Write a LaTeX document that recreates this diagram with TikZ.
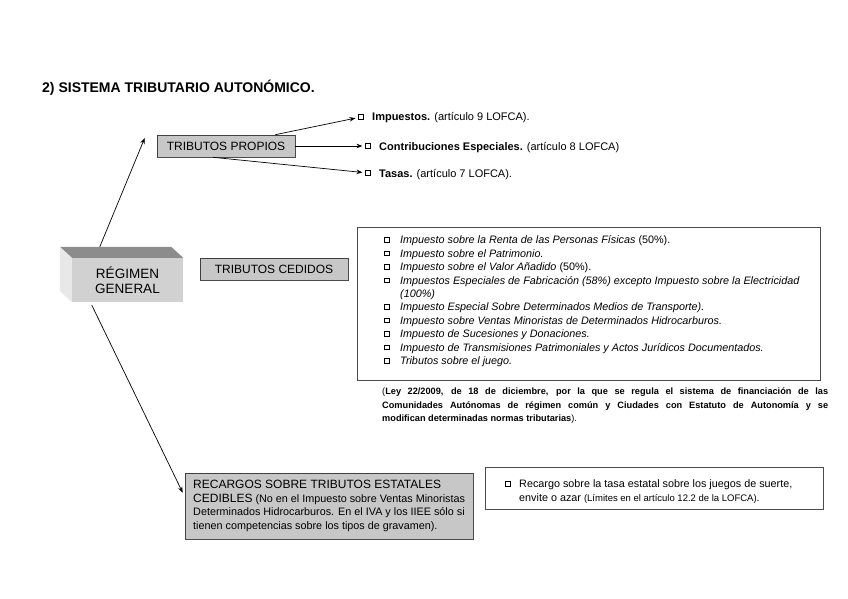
\documentclass[tikz,border=0pt]{standalone}
\usepackage{fontspec}
\setmainfont{Liberation Sans}
\usetikzlibrary{arrows.meta,calc}
\begin{document}
\begin{tikzpicture}[x=1pt,y=-1pt,
  arr/.style={-{Stealth[length=6pt,width=4.5pt]}, line width=0.7pt},
  sq/.style={draw, line width=0.6pt, minimum size=4.6pt, inner sep=0pt},
  graybox/.style={draw=black!75, line width=0.6pt, fill=black!22, inner sep=0pt},
  whitebox/.style={draw=black!70, line width=0.8pt, fill=white, inner sep=0pt},
  shadowline/.style={draw=black!70, line width=1.3pt},
  lbl/.style={anchor=base west, inner sep=0pt},
  boxtext/.style={font=\fontsize{12}{14}\selectfont},
  itemtext/.style={lbl, font=\fontsize{10.8}{12}\selectfont\itshape},
  smalltext/.style={lbl, font=\fontsize{10.8}{12}\selectfont},
]
\useasboundingbox (0,0) rectangle (848,599);

% title
\node[lbl, font=\fontsize{14}{16}\selectfont\bfseries] (title) at (42,93) {2) SISTEMA TRIBUTARIO AUTONÓMICO.};

% REGIMEN GENERAL 3D box
\node[minimum width=111pt, minimum height=44pt, inner sep=0pt, fill=black!18,
      align=center, font=\fontsize{13.5}{15.5}\selectfont] (rg) at (127.5,280) {RÉGIMEN\\GENERAL};
\fill[black!45] (rg.north west) -- ++(-12,-11) -- ($(rg.north east)+(-12,-11)$) -- (rg.north east) -- cycle;
\fill[black!9] (rg.north west) -- ++(-12,-11) -- ++(0,44) -- (rg.south west) -- cycle;

% TRIBUTOS PROPIOS
\node[graybox, minimum width=138pt, minimum height=22pt, boxtext] (tp) at (226,146) {TRIBUTOS PROPIOS};
\draw[shadowline] (tp.north east) -- (tp.south east) -- (tp.south west);

% bullets and texts for tributos propios
\node[sq] (b1) at (361,117) {};
\node[sq] (b2) at (368,146) {};
\node[sq] (b3) at (368,173) {};
\node[lbl, font=\fontsize{11}{12}\selectfont] (t1) at (372,121) {\textbf{Impuestos.} (artículo 9 LOFCA).};
\node[lbl, font=\fontsize{11}{12}\selectfont] (t2) at (379,150) {\textbf{Contribuciones Especiales.} (artículo 8 LOFCA)};
\node[lbl, font=\fontsize{11}{12}\selectfont] (t3) at (379,177) {\textbf{Tasas.} (artículo 7 LOFCA).};

\coordinate (tpa) at ($(tp.north east)+(-20,0)$);
\coordinate (tpb) at ($(tp.south)+(-13,0)$);
\draw[arr, shorten >=3pt] (tpa) -- (b1);
\draw[arr, shorten >=3pt] (tp.east) -- (b2);
\draw[arr, shorten >=3pt] (tpb) -- (b3);

% arrows from regimen
\coordinate (rgtop) at ($(rg.north west)+(28,-11)$);
\coordinate (tpin) at ($(tp.west)+(-12,-8)$);
\draw[arr] (rgtop) -- (tpin);

% TRIBUTOS CEDIDOS
\node[graybox, minimum width=148pt, minimum height=22pt, boxtext] (tc) at (274,269) {TRIBUTOS CEDIDOS};
\draw[shadowline] (tc.north east) -- (tc.south east) -- (tc.south west);

% list box
\node[whitebox, minimum width=463pt, minimum height=153pt] (lst) at (588.5,303.5) {};
\draw[shadowline, line width=1.5pt] (lst.north east) -- (lst.south east) -- (lst.south west);

\foreach \y/\n in {240/1,253.4/2,266.8/3,280.2/4,307/5,320.4/6,333.8/7,347.2/8,360.6/9}{
  \node[sq] (lb\n) at (387,\y) {};
}
\node[itemtext] (i1) at (400,243.8) {Impuesto sobre la Renta de las Personas Físicas \upshape(50\%).};
\node[itemtext] (i2) at (400,257.2) {Impuesto sobre el Patrimonio.};
\node[itemtext] (i3) at (400,270.6) {Impuesto sobre el Valor Añadido \upshape(50\%).};
\node[itemtext] (i4) at (400,284) {Impuestos Especiales de Fabricación (58\%) excepto Impuesto sobre la Electricidad};
\node[itemtext] (i4b) at (400,297.4) {(100\%)};
\node[itemtext] (i5) at (400,310.8) {Impuesto Especial Sobre Determinados Medios de Transporte).};
\node[itemtext] (i6) at (400,324.2) {Impuesto sobre Ventas Minoristas de Determinados Hidrocarburos.};
\node[itemtext] (i7) at (400,337.6) {Impuesto de Sucesiones y Donaciones.};
\node[itemtext] (i8) at (400,351) {Impuesto de Transmisiones Patrimoniales y Actos Jurídicos Documentados.};
\node[itemtext] (i9) at (400,364.4) {Tributos sobre el juego.};

% Ley
\node[lbl, font=\fontsize{9.2}{12}\selectfont\bfseries] (ley1) at (382,394.5) {\makebox[446pt][s]{\mdseries(\bfseries Ley 22/2009, de 18 de diciembre, por la que se regula el sistema de financiación de las}};
\node[lbl, font=\fontsize{9.2}{12}\selectfont\bfseries] (ley2) at (382,408) {\makebox[446pt][s]{Comunidades Autónomas de régimen común y Ciudades con Estatuto de Autonomía y se}};
\node[lbl, font=\fontsize{9.2}{12}\selectfont\bfseries] (ley3) at (382,421.5) {modifican determinadas normas tributarias\mdseries).};

% RECARGOS
\node[graybox, minimum width=288pt, minimum height=66pt] (rec) at (329,506) {};
\draw[shadowline, line width=1.5pt] (rec.north east) -- (rec.south east) -- (rec.south west);
\node[lbl, font=\fontsize{12}{13}\selectfont] (r1) at (193,488.5) {RECARGOS SOBRE TRIBUTOS ESTATALES};
\node[smalltext] (r2) at (193,502) {{\fontsize{12}{13}\selectfont CEDIBLES} (No en el Impuesto sobre Ventas Minoristas};
\node[smalltext] (r3) at (193,515.5) {Determinados Hidrocarburos. En el IVA y los IIEE sólo si};
\node[smalltext] (r4) at (193,529) {tienen competencias sobre los tipos de gravamen).};

\coordinate (rgbot) at ($(rg.south west)+(20,3)$);
\coordinate (recin) at ($(rec.north west)+(-2,20)$);
\draw[arr] (rgbot) -- (recin);

% right box
\node[whitebox, minimum width=338pt, minimum height=42pt] (rb) at (654,488) {};
\draw[shadowline, line width=1.1pt] (rb.north east) -- (rb.south east) -- (rb.south west);
\node[sq] (rbb) at (508,484) {};
\node[smalltext] (rt1) at (519,487.8) {Recargo sobre la tasa estatal sobre los juegos de suerte,};
\node[smalltext] (rt2) at (519,501.8) {envite o azar {\fontsize{9.5}{10}\selectfont(Límites en el artículo 12.2 de la LOFCA)}.};
\end{tikzpicture}
\end{document}
